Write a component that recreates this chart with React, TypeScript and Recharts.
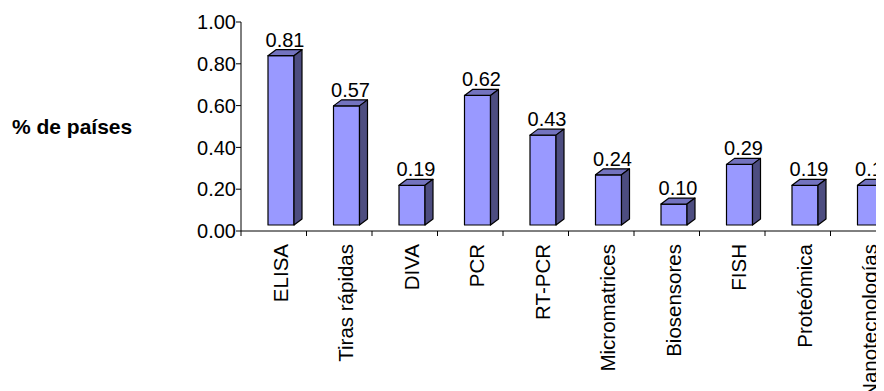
import { Bar, BarChart, LabelList, XAxis, YAxis } from "recharts"

const categories = [
    "ELISA",
    "Tiras rápidas",
    "DIVA",
    "PCR",
    "RT-PCR",
    "Micromatrices",
    "Biosensores",
    "FISH",
    "Proteómica",
    "Nanotecnologías",
]
const shares = [0.81, 0.57, 0.19, 0.62, 0.43, 0.24, 0.1, 0.29, 0.19, 0.19]
const yTicks = [0, 0.2, 0.4, 0.6, 0.8, 1.0]

const data = categories.map((name, i) => ({ name, value: shares[i] }))

const FONT = "'Liberation Sans', Arial, sans-serif"
// offsets of the fake 3d look
const SHIFT_X = 7
const SHIFT_Y = 6
const DEPTH_X = 8
const DEPTH_Y = 6

function Bar3D(props: any) {
    const { x, y, width, height } = props
    const fx = x + SHIFT_X
    const fy = y - SHIFT_Y
    const top = `${fx},${fy} ${fx + DEPTH_X},${fy - DEPTH_Y} ${fx + width + DEPTH_X},${fy - DEPTH_Y} ${fx + width},${fy}`
    const side = `${fx + width},${fy} ${fx + width + DEPTH_X},${fy - DEPTH_Y} ${fx + width + DEPTH_X},${fy + height - DEPTH_Y} ${fx + width},${fy + height}`
    return (
        <g stroke="#000" strokeWidth={1.2} strokeLinejoin="round">
            <rect x={fx} y={fy} width={width} height={height} fill="#9999FF" />
            <polygon points={top} fill="#7373BF" />
            <polygon points={side} fill="#4D4D80" />
        </g>
    )
}

function ValueLabel(props: any) {
    const { x, y, width, value } = props
    return (
        <text
            x={x + width / 2 + SHIFT_X + DEPTH_X / 2}
            y={y - 15}
            textAnchor="middle"
            fontSize={20}
            fontFamily={FONT}
            fill="#000"
        >
            {Number(value).toFixed(2)}
        </text>
    )
}

// rotated label plus the tick marks sitting between categories
function CategoryTick(props: any) {
    const { x, y, payload, index, visibleTicksCount } = props
    const half = payload.offset || 0
    const tx = x + 7
    const ty = y + 13
    return (
        <g>
            <line x1={x - half} y1={y} x2={x - half} y2={y + 5} stroke="#000" />
            {index === visibleTicksCount - 1 && (
                <line x1={x + half} y1={y} x2={x + half} y2={y + 5} stroke="#000" />
            )}
            <text
                x={tx}
                y={ty}
                transform={`rotate(-90 ${tx} ${ty})`}
                textAnchor="end"
                dy="0.35em"
                fontSize={20.5}
                fontFamily={FONT}
                fill="#000"
            >
                {payload.value}
            </text>
        </g>
    )
}

export default function App() {
    return (
        <div style={{ width: 876, height: 383, overflow: "hidden" }}>
            <BarChart
                width={900}
                height={383}
                data={data}
                margin={{ top: 14, right: 12, bottom: 0, left: 0 }}
            >
                <XAxis
                    dataKey="name"
                    interval={0}
                    tickLine={false}
                    tickSize={0}
                    tickMargin={0}
                    axisLine={{ stroke: "#000" }}
                    tick={<CategoryTick />}
                    height={160}
                />
                <YAxis
                    domain={[0, 1]}
                    ticks={yTicks}
                    width={233}
                    tickSize={5}
                    tickMargin={0}
                    axisLine={{ stroke: "#000" }}
                    tickLine={{ stroke: "#000" }}
                    tickFormatter={(v) => Number(v).toFixed(2)}
                    tick={{ fontSize: 20, fontFamily: FONT, fill: "#000" }}
                    label={{
                        value: "% de países",
                        position: "insideLeft",
                        offset: 4,
                        angle: 0,
                        style: { fontSize: 21, fontWeight: "bold", fontFamily: FONT, fill: "#000", textAnchor: "start" },
                    }}
                />
                <Bar
                    dataKey="value"
                    barSize={26}
                    shape={<Bar3D />}
                    isAnimationActive={false}
                >
                    <LabelList dataKey="value" content={<ValueLabel />} />
                </Bar>
            </BarChart>
        </div>
    )
}
